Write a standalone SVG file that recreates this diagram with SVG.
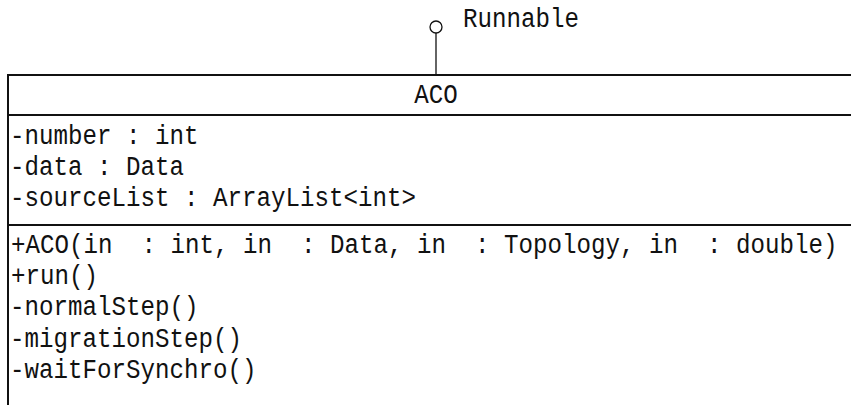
<svg xmlns="http://www.w3.org/2000/svg" width="851" height="405" viewBox="0 0 851 405">
  <style>
    .t { font-family: "Liberation Mono", "DejaVu Sans Mono", monospace; font-size: 27px; fill: #111; white-space: pre; }
    .edge { stroke: #111; stroke-width: 2; fill: none; }
    .lolli { stroke: #111; stroke-width: 1.3; fill: #fff; }
  </style>
  <rect width="851" height="405" fill="#fff"/>

  <!-- provided interface (lollipop) -->
  <g id="connectors">
    <line class="lolli" x1="436" y1="33" x2="436" y2="75"/>
    <circle class="lolli" cx="436" cy="27" r="6"/>
  </g>
  <g id="runnable">
    <text class="t" x="463" y="27" textLength="116" lengthAdjust="spacingAndGlyphs">Runnable</text>
  </g>

  <!-- class box ACO, runs off the right and bottom edges -->
  <g id="aco">
    <path class="edge" d="M860 75 H8 V420"/>
    <line class="edge" x1="8" y1="115" x2="860" y2="115"/>
    <line class="edge" x1="8" y1="225" x2="860" y2="225"/>
    <text class="t" x="436" y="103" text-anchor="middle" textLength="43.5" lengthAdjust="spacingAndGlyphs">ACO</text>

    <text class="t" x="10" y="144" textLength="188.5" lengthAdjust="spacingAndGlyphs">-number : int</text>
    <text class="t" x="10" y="175" textLength="174" lengthAdjust="spacingAndGlyphs">-data : Data</text>
    <text class="t" x="10" y="206" textLength="406" lengthAdjust="spacingAndGlyphs">-sourceList : ArrayList&lt;int&gt;</text>

    <text class="t" x="11" y="253" textLength="826.5" lengthAdjust="spacingAndGlyphs">+ACO(in  : int, in  : Data, in  : Topology, in  : double)</text>
    <text class="t" x="11" y="284" textLength="87" lengthAdjust="spacingAndGlyphs">+run()</text>
    <text class="t" x="10" y="315" textLength="188.5" lengthAdjust="spacingAndGlyphs">-normalStep()</text>
    <text class="t" x="10" y="347" textLength="232" lengthAdjust="spacingAndGlyphs">-migrationStep()</text>
    <text class="t" x="10" y="378" textLength="246.5" lengthAdjust="spacingAndGlyphs">-waitForSynchro()</text>
  </g>
</svg>
